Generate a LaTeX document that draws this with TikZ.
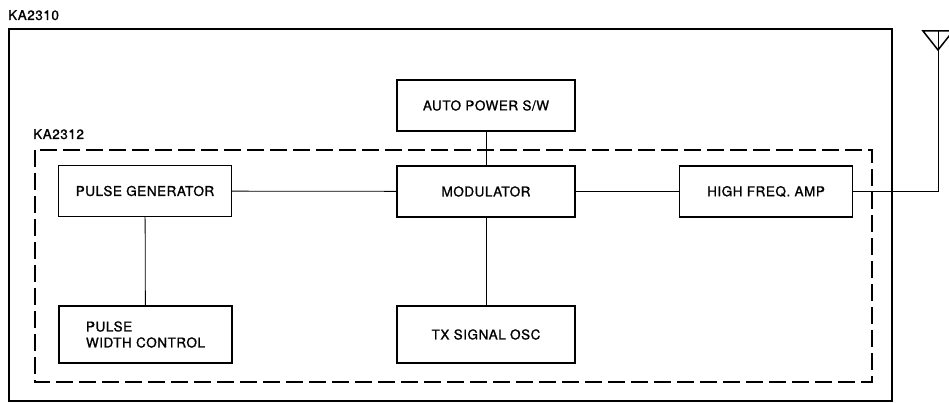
\documentclass[tikz,border=0pt]{standalone}
\usepackage{fontspec}
\setmainfont{TeX Gyre Heros}[LetterSpace=4,FakeBold=1.2]
\begin{document}
\begin{tikzpicture}[x=1pt,y=-1pt,
  blk/.style={draw,line width=1.3pt,minimum width=173pt,minimum height=51pt,inner sep=0pt,font=\fontsize{13.5}{16}\selectfont},
  wire/.style={line width=0.8pt},
  lbl/.style={font=\fontsize{13.5}{16}\selectfont,inner sep=0pt,anchor=base west}]
\useasboundingbox (0,0) rectangle (949,403);
% outer chip
\draw[line width=2.6pt] (9,29) rectangle (892,401);
\node[lbl] (ka2310) at (8,20) {KA2310};
% inner dashed
\draw[line width=1.5pt,dash pattern=on 17pt off 6pt] (35,150) rectangle (872,382);
\node[lbl] (ka2312) at (33,139) {KA2312};
% blocks
\node[blk] (pg) at (145,191) {PULSE GENERATOR};
\node[blk,minimum width=178pt] (mod) at (486,191.5) {MODULATOR};
\node[blk] (hfa) at (766,191.5) {HIGH FREQ. AMP};
\node[blk,minimum width=178pt] (aps) at (486,105.5) {AUTO POWER S/W};
\node[blk,minimum height=57pt,align=left] (pwc) at (145.5,334.5) {PULSE\\WIDTH CONTROL};
\node[blk,minimum width=178pt,minimum height=57pt] (tx) at (486,334.5) {TX SIGNAL OSC};
% antenna
\coordinate (ant) at (938,50);
\coordinate (antc) at (938,191.5);
\draw[line width=1.5pt,line join=miter] (923,31) -- (953,31) -- (ant) -- cycle;
\draw[wire] (938,31) -- (ant);
% connectors
\draw[wire] (pg) -- (mod);
\draw[wire] (mod) -- (hfa);
\draw[wire] (aps) -- (mod);
\draw[wire] (mod) -- (tx);
\draw[wire] (pg) -- (pwc);
\draw[wire] (hfa.east) -- (antc) -- (ant);
\end{tikzpicture}
\end{document}
